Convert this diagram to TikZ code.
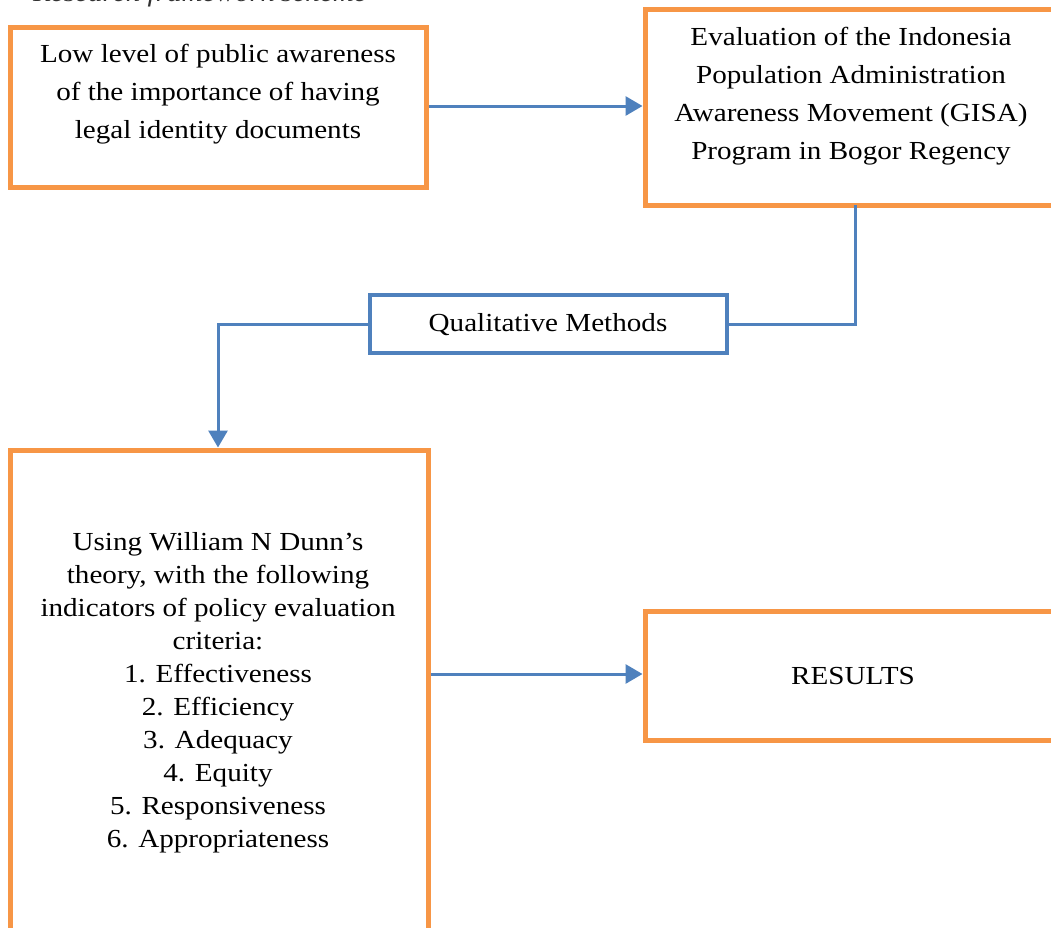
\documentclass[tikz,border=0pt]{standalone}
\usepackage{fontspec}
\setmainfont[FakeStretch=1.12]{Liberation Serif}
\usetikzlibrary{arrows.meta}
\definecolor{boxorange}{HTML}{F79646}
\definecolor{boxblue}{HTML}{4F81BD}
\tikzset{
  obox/.style={draw=boxorange, line width=5pt, rectangle, inner sep=0pt},
  bbox/.style={draw=boxblue, line width=4pt, rectangle, inner sep=0pt},
  txt/.style={align=center, inner sep=0pt, font=\fontsize{26}{38}\selectfont},
  conn/.style={draw=boxblue, line width=3pt},
  arr/.style={conn, -{Triangle[length=17pt,width=19pt]}}
}
\begin{document}
\begin{tikzpicture}[x=1pt,y=-1pt]
\useasboundingbox (0,0) rectangle (1051,927);
\fill[white] (0,0) rectangle (1051,927);
% clipped caption at the top
\node[anchor=base west, inner sep=0pt, font=\fontsize{26}{30}\selectfont\itshape, text=black!80] (cap) at (33,1) {Research framework scheme};
% boxes
\node[obox, minimum width=416pt, minimum height=160pt] (b1) at (218,107) {};
\node[obox, minimum width=420pt, minimum height=196pt] (b2) at (855,107) {};
\node[bbox, minimum width=357pt, minimum height=58pt] (b3) at (548.5,324) {};
\node[obox, minimum width=418pt, minimum height=480pt] (b4) at (219,690) {};
\node[obox, minimum width=420pt, minimum height=129pt] (b5) at (855,675.5) {};
% texts
\node[txt] (t1) at (218,94) {Low level of public awareness\\of the importance of having\\legal identity documents};
\node[txt] (t2) at (851,96) {Evaluation of the Indonesia\\Population Administration\\Awareness Movement (GISA)\\Program in Bogor Regency};
\node[txt] (t3) at (548,325) {Qualitative Methods};
\node[txt, font=\fontsize{26}{33}\selectfont] (t4) at (218,693) {Using William N Dunn's\\theory, with the following\\indicators of policy evaluation\\criteria:\\1. Effectiveness\\2. Efficiency\\3. Adequacy\\4. Equity\\5. Responsiveness\\6. Appropriateness};
\node[txt] (t5) at (853,676) {RESULTS};
% connectors
\coordinate (c1) at (855,205);
\draw[arr] (b1.east |- 0,106) -- (b2.west |- 0,106);
\draw[conn] (c1) |- (b3.east);
\draw[arr] (b3.west) -| (b4.north -| 218,0);
\draw[arr] (b4.east |- 0,674) -- (b5.west |- 0,674);
\end{tikzpicture}
\end{document}
